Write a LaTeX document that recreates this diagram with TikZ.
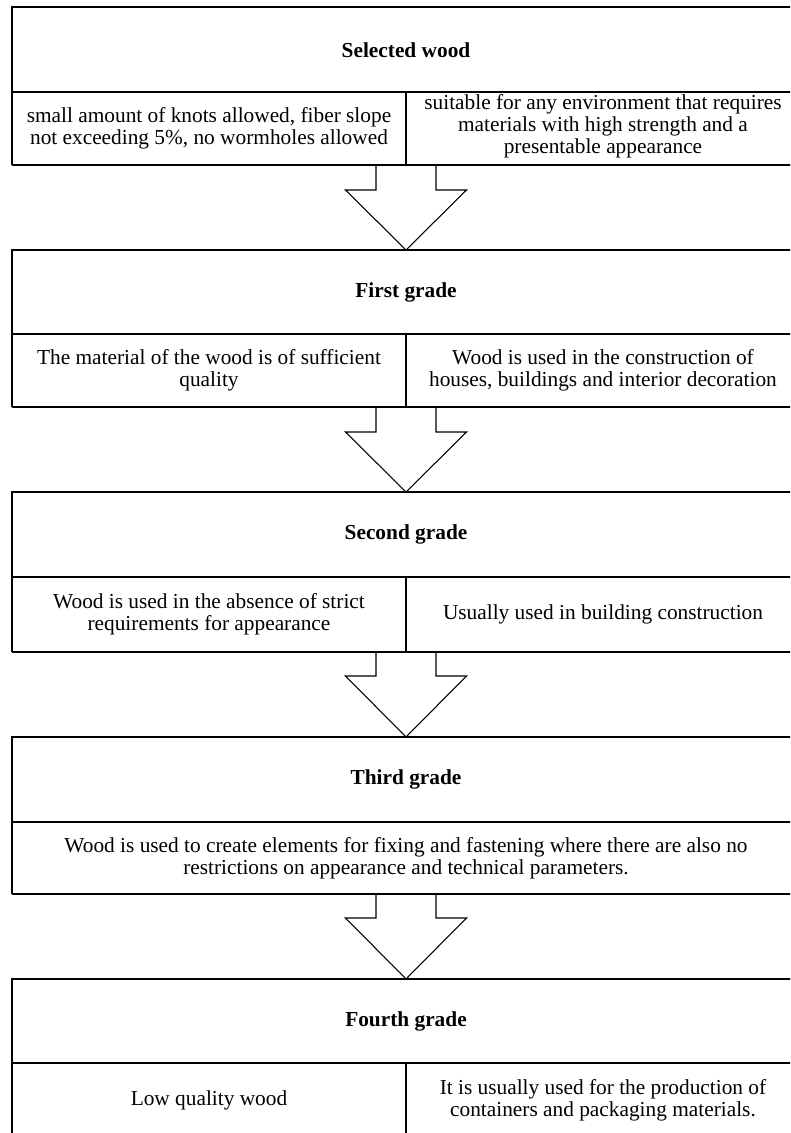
\documentclass[tikz,border=0pt]{standalone}
\usepackage{fontspec}
\setmainfont{Liberation Serif}
\usetikzlibrary{calc}

\begin{document}
\begin{tikzpicture}[
	x=0.75pt, y=-0.75pt,
  frame/.style = {line width=1.5pt},
  rule/.style = {line width=2.2pt},
  split/.style = {line width=0.8pt},
  block arrow/.style = {line width=0.8pt, line join=miter},
  cell/.style = {align=center, inner sep=0pt, font=\fontsize{16}{16.5}\selectfont},
  grade/.style = {align=center, inner sep=0pt, font=\fontsize{16}{16.5}\selectfont\bfseries}
  ]
	\path[use as bounding box] (0,0) rectangle (790,1133);
	\clip (0,0) rectangle (790,1133);

	\coordinate (@out1) at (406,165);
	\coordinate (@in2) at (406,250);
	\coordinate (@out2) at (406,407);
	\coordinate (@in3) at (406,492);
	\coordinate (@out3) at (406,652);
	\coordinate (@in4) at (406,737);
	\coordinate (@out4) at (406,894);
	\coordinate (@in5) at (406,979);

	% selected wood
	\draw[frame] (12,165) -- (12,7) -- (800,7) -- (800,165);
	\draw[rule] (12,92) -- (800,92);
	\draw[rule] (12,165) -- (800,165);
	\draw[split] (406,92) -- (406,165);
	\node[grade] (sel) at (406,50) {Selected wood};
	\node[cell] (sel-l) at (209,128.5) {small amount of knots allowed, fiber slope\\not exceeding 5\%, no wormholes allowed};
	\node[cell] (sel-r) at (603,126) {suitable for any environment that requires\\materials with high strength and a\\presentable appearance};

	% first grade
	\draw[frame] (12,407) -- (12,250) -- (800,250) -- (800,407);
	\draw[rule] (12,334) -- (800,334);
	\draw[rule] (12,407) -- (800,407);
	\draw[split] (406,334) -- (406,407);
	\node[grade] (first) at (406,292) {First grade};
	\node[cell] (first-l) at (209,370.5) {The material of the wood is of sufficient\\quality};
	\node[cell] (first-r) at (603,370.5) {Wood is used in the construction of\\houses, buildings and interior decoration};

	% second grade
	\draw[frame] (12,652) -- (12,492) -- (800,492) -- (800,652);
	\draw[rule] (12,577) -- (800,577);
	\draw[rule] (12,652) -- (800,652);
	\draw[split] (406,577) -- (406,652);
	\node[grade] (second) at (406,534.5) {Second grade};
	\node[cell] (second-l) at (209,614.5) {Wood is used in the absence of strict\\requirements for appearance};
	\node[cell] (second-r) at (603,614.5) {Usually used in building construction};

	% third grade
	\draw[frame] (12,894) -- (12,737) -- (800,737) -- (800,894);
	\draw[rule] (12,822) -- (800,822);
	\draw[rule] (12,894) -- (800,894);
	\node[grade] (third) at (406,779.5) {Third grade};
	\node[cell] (third-c) at (406,858) {Wood is used to create elements for fixing and fastening where there are also no\\restrictions on appearance and technical parameters.};

	% fourth grade
	\draw[frame] (12,1140) -- (12,979) -- (800,979) -- (800,1140);
	\draw[rule] (12,1063) -- (800,1063);
	\draw[split] (406,1063) -- (406,1140);
	\node[grade] (fourth) at (406,1021) {Fourth grade};
	\node[cell] (fourth-l) at (209,1100) {Low quality wood};
	\node[cell] (fourth-r) at (603,1100) {It is usually used for the production of\\containers and packaging materials.};

	% arrows
	\draw[block arrow] ($(@out1)+(-30,0)$) -- ($(@out1)+(-30,25)$) -- ($(@out1)+(-60.5,25)$) -- (@in2) -- ($(@out1)+(60.5,25)$) -- ($(@out1)+(30,25)$) -- ($(@out1)+(30,0)$);
	\draw[block arrow] ($(@out2)+(-30,0)$) -- ($(@out2)+(-30,25)$) -- ($(@out2)+(-60.5,25)$) -- (@in3) -- ($(@out2)+(60.5,25)$) -- ($(@out2)+(30,25)$) -- ($(@out2)+(30,0)$);
	\draw[block arrow] ($(@out3)+(-30,0)$) -- ($(@out3)+(-30,24)$) -- ($(@out3)+(-60.5,24)$) -- (@in4) -- ($(@out3)+(60.5,24)$) -- ($(@out3)+(30,24)$) -- ($(@out3)+(30,0)$);
	\draw[block arrow] ($(@out4)+(-30,0)$) -- ($(@out4)+(-30,24)$) -- ($(@out4)+(-60.5,24)$) -- (@in5) -- ($(@out4)+(60.5,24)$) -- ($(@out4)+(30,24)$) -- ($(@out4)+(30,0)$);

\end{tikzpicture}
\end{document}
